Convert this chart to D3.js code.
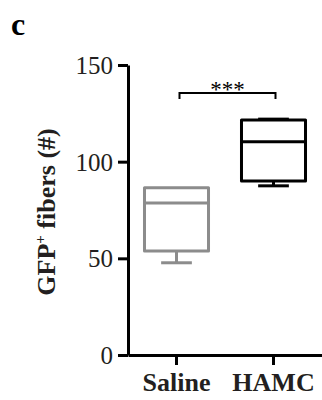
<!DOCTYPE html>
<html>
<head>
<meta charset="utf-8">
<script src="https://cdn.jsdelivr.net/npm/d3@7"></script>
<style>
  body { margin: 0; background: #fff; }
  svg { display: block; }
  .axis path, .axis line { stroke: #000; stroke-width: 3; }
  .axis text { font-family: "Liberation Serif", "Times New Roman", serif; fill: #231f20; }
</style>
</head>
<body>
<svg id="chart" width="322" height="400"></svg>
<script>
// data
var groups = ['Saline', 'HAMC'];
var mins = [47.7, 87.5];
var q1s = [53.8, 90];
var medians = [78.6, 110.3];
var q3s = [86.5, 121.5];
var maxs = [86.5, 122];
var colors = ['#8c8c8c', '#000000'];
var yTicks = [0, 50, 100, 150];

var svg = d3.select('#chart');

var y = d3.scaleLinear().domain([0, 150]).range([355, 65]);
var x = d3.scaleBand().domain(groups).range([128, 322])
    .paddingInner(0.34).paddingOuter(0.17);

// panel letter
svg.append('text')
    .attr('x', 11).attr('y', 35)
    .style('font-family', '"Liberation Serif", serif')
    .style('font-weight', 'bold')
    .style('font-size', '32px')
    .text('c');

// boxes
var boxes = svg.selectAll('g.box').data(groups).enter()
    .append('g').attr('class', 'box');

boxes.each(function(g, i) {
    var sel = d3.select(this);
    var x0 = x(g), w = x.bandwidth(), cx = x0 + w / 2;
    var col = colors[i];
    var capW = w * 0.48;
    sel.append('rect')
        .attr('x', x0).attr('y', y(q3s[i]))
        .attr('width', w).attr('height', y(q1s[i]) - y(q3s[i]))
        .attr('fill', 'none').attr('stroke', col).attr('stroke-width', 3)
        .attr('stroke-linejoin', 'round');
    sel.append('line')
        .attr('x1', x0).attr('x2', x0 + w)
        .attr('y1', y(medians[i])).attr('y2', y(medians[i]))
        .attr('stroke', col).attr('stroke-width', 3);
    // lower whisker
    sel.append('line')
        .attr('x1', cx).attr('x2', cx)
        .attr('y1', y(q1s[i])).attr('y2', y(mins[i]))
        .attr('stroke', col).attr('stroke-width', 3);
    sel.append('line')
        .attr('x1', cx - capW / 2).attr('x2', cx + capW / 2)
        .attr('y1', y(mins[i])).attr('y2', y(mins[i]))
        .attr('stroke', col).attr('stroke-width', 3);
    // upper whisker
    if (maxs[i] > q3s[i]) {
        sel.append('line')
            .attr('x1', cx - capW / 2).attr('x2', cx + capW / 2)
            .attr('y1', y(maxs[i])).attr('y2', y(maxs[i]))
            .attr('stroke', col).attr('stroke-width', 3);
    }
});

// significance bracket
var bx1 = x('Saline') + x.bandwidth() / 2 + 3,
    bx2 = x('HAMC') + x.bandwidth() / 2 + 2,
    by = 93;
svg.append('path')
    .attr('d', 'M' + bx1 + ',' + (by + 6) + 'V' + by + 'H' + bx2 + 'V' + (by + 6))
    .attr('fill', 'none').attr('stroke', '#000').attr('stroke-width', 2);
svg.append('text')
    .attr('x', (bx1 + bx2) / 2).attr('y', 97)
    .attr('text-anchor', 'middle')
    .style('font-family', '"Liberation Serif", serif')
    .style('font-size', '23px')
    .text('***');

// axes
var yAxis = svg.append('g').attr('class', 'axis')
    .attr('transform', 'translate(128,0)')
    .call(d3.axisLeft(y).tickValues(yTicks).tickSize(10).tickSizeOuter(0).tickPadding(5));
yAxis.selectAll('text').style('font-size', '25px').attr('dy', '0.34em');

var xAxis = svg.append('g').attr('class', 'axis')
    .attr('transform', 'translate(0,355)')
    .call(d3.axisBottom(x).tickSize(10).tickSizeOuter(0).tickPadding(8));
xAxis.selectAll('text').style('font-size', '26px').style('font-weight', 'bold')
    .attr('dy', '0.71em');

// y axis title
var title = svg.append('text')
    .attr('transform', 'translate(55,212) rotate(-90)')
    .attr('text-anchor', 'middle')
    .style('font-family', '"Liberation Serif", serif')
    .style('font-weight', 'bold')
    .style('font-size', '26px')
    .style('fill', '#231f20');
title.append('tspan').text('GFP');
title.append('tspan').attr('dy', -10).style('font-size', '15px').text('+');
title.append('tspan').attr('dy', 10).text(' fibers (#)');
</script>
</body>
</html>
